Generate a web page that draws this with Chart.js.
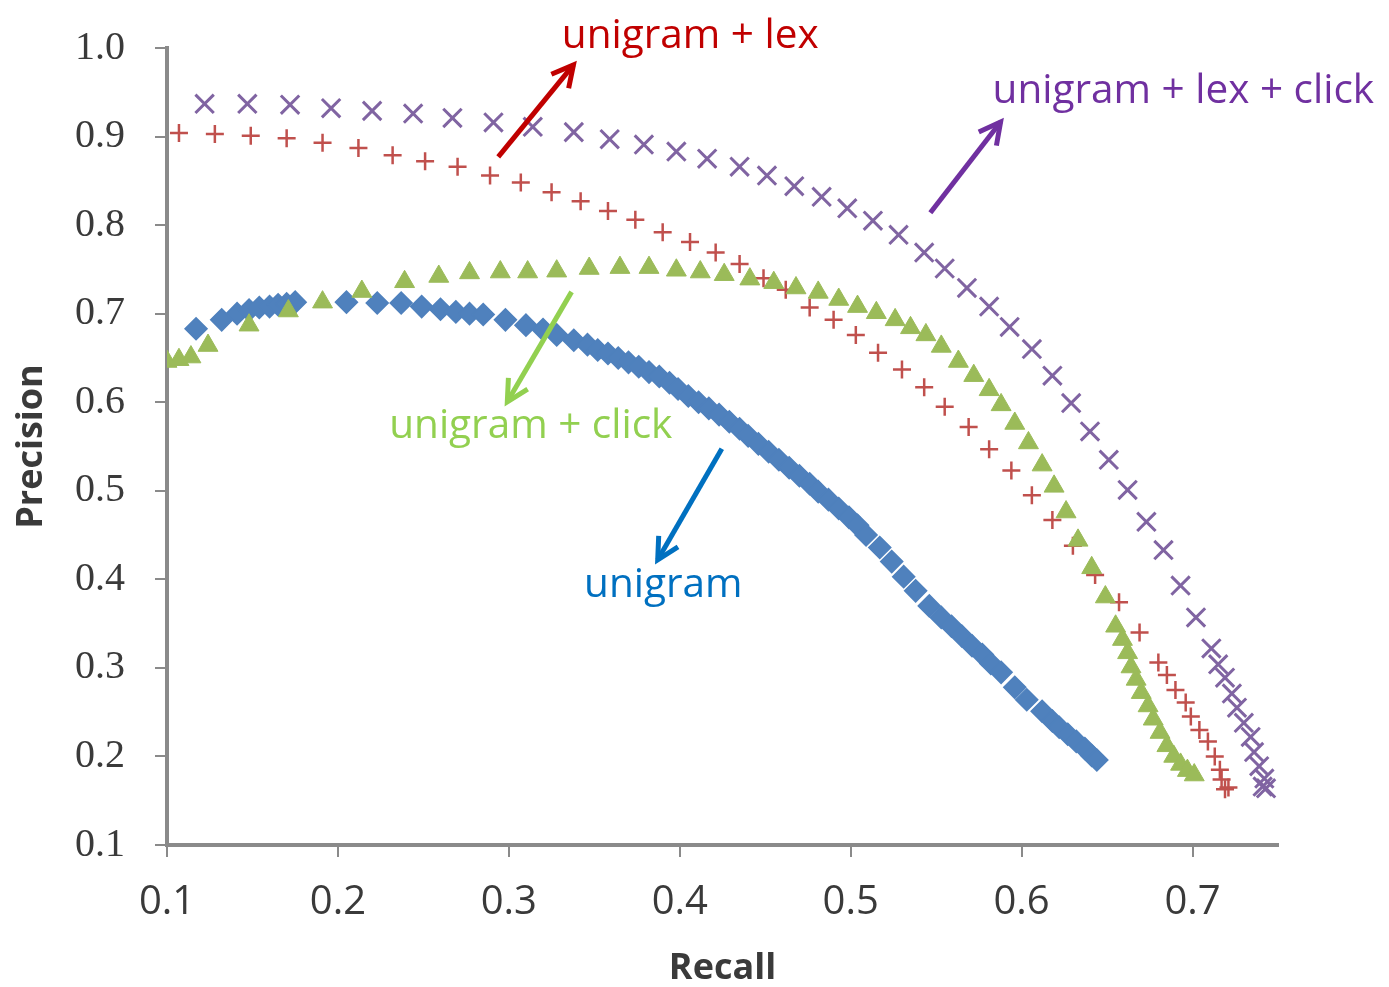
<!DOCTYPE html>
<html>
<head>
<meta charset="utf-8">
<title>Precision / Recall</title>
<style>
  html, body { margin: 0; padding: 0; background: #ffffff; }
  #wrap { width: 1389px; height: 987px; }
</style>
<script src="https://cdn.jsdelivr.net/npm/chart.js@4.4.1/dist/chart.umd.min.js"></script>
</head>
<body>
<div id="wrap"><canvas id="pr" width="1389" height="987"></canvas></div>
<script>
// Axis ticks
const recallTicks = [0.1, 0.2, 0.3, 0.4, 0.5, 0.6, 0.7];
const precisionTicks = [0.1, 0.2, 0.3, 0.4, 0.5, 0.6, 0.7, 0.8, 0.9, 1.0];

// unigram
const unigramRecall = [0.117,0.132,0.141,0.148,0.154,0.160,0.165,0.170,0.175,0.205,0.223,0.237,0.249,0.260,0.269,0.277,0.285,0.298,0.310,0.320,0.328,0.338,0.346,0.352,0.358,0.364,0.370,0.376,0.382,0.388,0.394,0.399,0.405,0.411,0.417,0.423,0.429,0.435,0.440,0.446,0.452,0.458,0.464,0.470,0.476,0.481,0.487,0.493,0.499,0.504,0.509,0.517,0.524,0.531,0.538,0.546,0.553,0.559,0.565,0.571,0.577,0.582,0.588,0.596,0.603,0.612,0.618,0.622,0.627,0.632,0.637,0.641,0.644];
const unigramPrecision = [0.683,0.693,0.700,0.704,0.707,0.708,0.710,0.711,0.713,0.713,0.712,0.712,0.708,0.705,0.702,0.700,0.699,0.693,0.687,0.682,0.676,0.670,0.665,0.659,0.655,0.650,0.645,0.640,0.634,0.629,0.622,0.615,0.607,0.600,0.593,0.586,0.578,0.570,0.562,0.553,0.544,0.535,0.526,0.517,0.508,0.499,0.490,0.480,0.470,0.461,0.450,0.436,0.420,0.403,0.387,0.370,0.357,0.347,0.336,0.325,0.315,0.305,0.295,0.278,0.264,0.251,0.240,0.233,0.225,0.217,0.209,0.201,0.196];

// unigram + click
const clickRecall = [0.100,0.107,0.114,0.124,0.148,0.171,0.191,0.214,0.239,0.259,0.277,0.295,0.311,0.328,0.347,0.365,0.382,0.398,0.412,0.426,0.441,0.455,0.468,0.481,0.493,0.504,0.515,0.526,0.535,0.544,0.553,0.563,0.572,0.581,0.588,0.596,0.604,0.612,0.619,0.626,0.633,0.641,0.649,0.655,0.659,0.662,0.664,0.667,0.670,0.674,0.677,0.681,0.685,0.689,0.693,0.697,0.701];
const clickPrecision = [0.646,0.648,0.651,0.664,0.687,0.703,0.713,0.725,0.736,0.742,0.746,0.747,0.747,0.748,0.751,0.752,0.752,0.749,0.747,0.744,0.739,0.735,0.729,0.724,0.716,0.708,0.701,0.693,0.684,0.676,0.663,0.646,0.630,0.614,0.597,0.576,0.554,0.529,0.505,0.476,0.444,0.413,0.380,0.347,0.332,0.317,0.301,0.287,0.272,0.257,0.242,0.227,0.212,0.200,0.191,0.184,0.179];

// unigram + lex
const lexRecall = [0.107,0.128,0.149,0.170,0.191,0.212,0.232,0.251,0.270,0.289,0.307,0.325,0.342,0.358,0.374,0.390,0.406,0.421,0.435,0.449,0.462,0.476,0.490,0.503,0.516,0.530,0.543,0.555,0.569,0.581,0.594,0.606,0.618,0.630,0.643,0.657,0.669,0.680,0.685,0.690,0.696,0.699,0.704,0.709,0.713,0.716,0.717,0.719,0.721];
const lexPrecision = [0.904,0.903,0.901,0.898,0.893,0.887,0.879,0.872,0.866,0.856,0.848,0.837,0.827,0.816,0.806,0.792,0.781,0.769,0.756,0.740,0.727,0.707,0.693,0.676,0.656,0.637,0.617,0.595,0.572,0.547,0.523,0.495,0.467,0.438,0.405,0.374,0.340,0.306,0.292,0.275,0.261,0.245,0.230,0.217,0.200,0.185,0.174,0.163,0.165];

// unigram + lex + click
const lexClickRecall = [0.122,0.147,0.172,0.196,0.220,0.244,0.267,0.291,0.314,0.338,0.359,0.379,0.398,0.416,0.435,0.451,0.467,0.483,0.498,0.513,0.528,0.543,0.555,0.568,0.581,0.593,0.606,0.618,0.629,0.640,0.651,0.662,0.673,0.683,0.693,0.702,0.711,0.715,0.719,0.723,0.726,0.730,0.734,0.736,0.739,0.742,0.743,0.741];
const lexClickPrecision = [0.937,0.937,0.936,0.932,0.929,0.926,0.921,0.916,0.911,0.905,0.897,0.891,0.883,0.875,0.866,0.856,0.844,0.832,0.819,0.805,0.789,0.769,0.751,0.729,0.708,0.685,0.660,0.630,0.599,0.567,0.535,0.501,0.465,0.433,0.393,0.357,0.322,0.304,0.289,0.271,0.255,0.238,0.222,0.205,0.189,0.175,0.164,0.166];

const pairUp = (xs, ys) => xs.map((x, i) => ({ x: x, y: ys[i] }));

// Callout labels with arrows, placed in data units (recall, precision)
const callouts = [
  { text: 'unigram + lex',         color: '#C00000', textAt: [0.331, 1.000], from: [0.2938, 0.877], to: [0.3378, 0.981] },
  { text: 'unigram + lex + click', color: '#7030A0', textAt: [0.583, 0.938], from: [0.5466, 0.814], to: [0.5877, 0.9165] },
  { text: 'unigram + click',       color: '#92D050', textAt: [0.230, 0.560], from: [0.3367, 0.7246], to: [0.2991, 0.6005] },
  { text: 'unigram',               color: '#0070C0', textAt: [0.344, 0.380], from: [0.4246, 0.5474], to: [0.3871, 0.4221] }
];

const calloutPlugin = {
  id: 'callouts',
  afterDraw(chart) {
    const ctx = chart.ctx;
    const xs = chart.scales.x, ys = chart.scales.y;
    ctx.save();
    callouts.forEach(c => {
      const x0 = xs.getPixelForValue(c.from[0]), y0 = ys.getPixelForValue(c.from[1]);
      const x1 = xs.getPixelForValue(c.to[0]),   y1 = ys.getPixelForValue(c.to[1]);
      ctx.strokeStyle = c.color;
      ctx.lineWidth = 5;
      ctx.lineCap = 'butt';
      ctx.beginPath();
      ctx.moveTo(x0, y0);
      ctx.lineTo(x1, y1);
      ctx.stroke();
      // open arrow head
      const ang = Math.atan2(y1 - y0, x1 - x0);
      const len = 24, spread = Math.PI / 6.5;
      ctx.lineJoin = 'miter';
      ctx.beginPath();
      ctx.moveTo(x1 - len * Math.cos(ang - spread), y1 - len * Math.sin(ang - spread));
      ctx.lineTo(x1, y1);
      ctx.lineTo(x1 - len * Math.cos(ang + spread), y1 - len * Math.sin(ang + spread));
      ctx.stroke();
      // label
      ctx.fillStyle = c.color;
      ctx.font = '40.5px "Open Sans", "Noto Sans", sans-serif';
      ctx.textAlign = 'left';
      ctx.textBaseline = 'alphabetic';
      ctx.fillText(c.text, xs.getPixelForValue(c.textAt[0]), ys.getPixelForValue(c.textAt[1]));
    });
    ctx.restore();
  }
};

const axisGray = '#8a8a8a';
const labelGray = '#3a3a3a';

new Chart(document.getElementById('pr'), {
  type: 'scatter',
  data: {
    datasets: [
      { label: 'unigram + click', data: pairUp(clickRecall, clickPrecision),
        pointStyle: 'triangle', pointRadius: 11.5, backgroundColor: '#9BBB59', borderColor: '#9BBB59', borderWidth: 1 },
      { label: 'unigram + lex', data: pairUp(lexRecall, lexPrecision),
        pointStyle: 'cross', pointRadius: 9, backgroundColor: '#C0504D', borderColor: '#C0504D', borderWidth: 2.5 },
      { label: 'unigram', data: pairUp(unigramRecall, unigramPrecision),
        pointStyle: 'rectRot', pointRadius: 11, backgroundColor: '#4F81BD', borderColor: '#4F81BD', borderWidth: 1.5 },
      { label: 'unigram + lex + click', data: pairUp(lexClickRecall, lexClickPrecision),
        pointStyle: 'crossRot', pointRadius: 13, backgroundColor: '#8064A2', borderColor: '#8064A2', borderWidth: 3 }
    ]
  },
  options: {
    responsive: false,
    animation: false,
    devicePixelRatio: 1,
    layout: { padding: { top: 48, right: 111, bottom: 0, left: 0 } },
    plugins: {
      legend: { display: false },
      tooltip: { enabled: false }
    },
    elements: { point: { hoverRadius: 10 } },
    scales: {
      x: {
        type: 'linear',
        min: 0.1,
        max: 0.75,
        afterFit(scale) { scale.height = 142; },
        afterBuildTicks(scale) { scale.ticks = recallTicks.map(v => ({ value: v })); },
        grid: { drawOnChartArea: false, drawTicks: true, tickLength: 12, color: axisGray, lineWidth: 2 },
        border: { display: true, color: axisGray, width: 4 },
        ticks: {
          autoSkip: false,
          maxRotation: 0,
          padding: 22,
          color: labelGray,
          font: { family: '"Open Sans", "Noto Sans", sans-serif', size: 40 },
          callback: v => v.toFixed(1)
        },
        title: {
          display: true,
          text: 'Recall',
          color: labelGray,
          padding: { top: 0, bottom: 0 },
          font: { family: '"Open Sans", "Noto Sans", sans-serif', size: 36, weight: 'bold', lineHeight: 1 }
        }
      },
      y: {
        type: 'linear',
        min: 0.1,
        max: 1.0,
        afterFit(scale) { scale.width = 167; },
        afterBuildTicks(scale) { scale.ticks = precisionTicks.map(v => ({ value: v })); },
        grid: { drawOnChartArea: false, drawTicks: true, tickLength: 12, color: axisGray, lineWidth: 2 },
        border: { display: true, color: axisGray, width: 4 },
        ticks: {
          autoSkip: false,
          padding: 30,
          color: labelGray,
          font: { family: '"Liberation Serif", "DejaVu Serif", serif', size: 40, lineHeight: 0.5 },
          callback: v => v.toFixed(1)
        },
        title: {
          display: true,
          text: 'Precision',
          color: labelGray,
          padding: { top: 14, bottom: 0 },
          font: { family: '"Open Sans", "Noto Sans", sans-serif', size: 36, weight: 'bold', lineHeight: 1 }
        }
      }
    }
  },
  plugins: [calloutPlugin]
});
</script>
</body>
</html>
